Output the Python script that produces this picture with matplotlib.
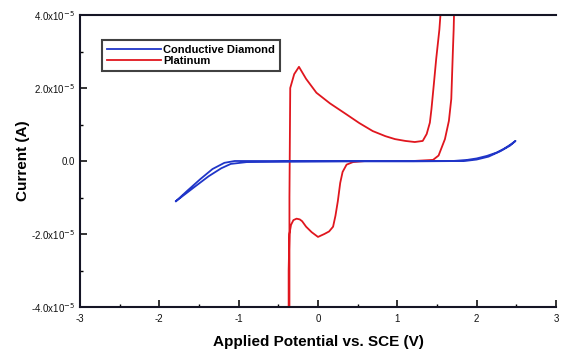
import matplotlib
matplotlib.use("Agg")
import matplotlib.pyplot as plt
from matplotlib.ticker import MultipleLocator, FixedLocator

plt.rcParams['font.family'] = ['Liberation Sans', 'DejaVu Sans']

# conductive diamond: forward then reverse sweep (V, A)
diamond_v = [-1.79, -1.65, -1.48, -1.33, -1.18, -1.05, -0.6, 0.0, 0.6, 1.2, 1.7, 1.88, 2.0, 2.13, 2.25, 2.34, 2.42, 2.49,
             2.42, 2.3, 2.15, 2.0, 1.85, 1.2, 0.5, -0.3, -0.9, -1.1, -1.22, -1.38, -1.55, -1.7, -1.79]
diamond_i = [-1.10e-5, -0.82e-5, -0.49e-5, -0.22e-5, -0.05e-5, 0.0, 0.0, 0.0, 0.0, 0.0, 0.0, 0.03e-5, 0.07e-5, 0.14e-5, 0.23e-5, 0.33e-5, 0.44e-5, 0.55e-5,
             0.42e-5, 0.27e-5, 0.12e-5, 0.04e-5, 0.0, -0.01e-5, -0.01e-5, -0.02e-5, -0.03e-5, -0.08e-5, -0.2e-5, -0.42e-5, -0.7e-5, -0.95e-5, -1.10e-5]

# platinum
platinum_v = [-0.36, -0.36, -0.35, -0.30, -0.24, -0.15, -0.02, 0.15, 0.35, 0.52, 0.69, 0.85, 0.97, 1.1, 1.22, 1.32, 1.37, 1.41, 1.43, 1.46, 1.49, 1.53, 1.56,
              1.72, 1.71, 1.70, 1.68, 1.65, 1.60, 1.52, 1.45, 1.2, 0.9, 0.6, 0.44, 0.36, 0.31, 0.28, 0.25, 0.22, 0.19, 0.14, 0.08, 0.0, -0.08, -0.15, -0.2, -0.23, -0.27, -0.31, -0.34, -0.36, -0.37, -0.37]
platinum_i = [-4.5e-5, -1.0e-5, 2.0e-5, 2.38e-5, 2.58e-5, 2.25e-5, 1.87e-5, 1.58e-5, 1.29e-5, 1.04e-5, 0.82e-5, 0.68e-5, 0.6e-5, 0.55e-5, 0.52e-5, 0.55e-5, 0.74e-5, 1.05e-5, 1.42e-5, 2.1e-5, 2.8e-5, 3.6e-5, 4.5e-5,
              4.5e-5, 3.6e-5, 3.0e-5, 1.7e-5, 1.1e-5, 0.6e-5, 0.15e-5, 0.03e-5, 0.0, 0.0, 0.0, -0.03e-5, -0.1e-5, -0.3e-5, -0.6e-5, -1.1e-5, -1.5e-5, -1.8e-5, -1.93e-5, -2.0e-5, -2.08e-5, -1.95e-5, -1.8e-5, -1.65e-5, -1.6e-5, -1.58e-5, -1.62e-5, -1.75e-5, -2.0e-5, -3.0e-5, -4.5e-5]

x_ticks = [-3, -2, -1, 0, 1, 2, 3]
y_ticks = [-4e-5, -2e-5, 0, 2e-5, 4e-5]
y_labels = ["-4.0x10$^{-5}$", "-2.0x10$^{-5}$", "0.0", "2.0x10$^{-5}$", "4.0x10$^{-5}$"]

fig = plt.figure(figsize=(5.61, 3.52), dpi=100)
ax = fig.add_axes([80 / 561, 1 - 307 / 352, 476 / 561, 292 / 352])

ax.plot(platinum_v, platinum_i, color="#e0161e", lw=1.3, label="Platinum", zorder=2)
ax.plot(diamond_v, diamond_i, color="#2035c8", lw=1.3, label="Conductive Diamond", zorder=3)

ax.set_xlim(-3, 3)
ax.set_ylim(-4e-5, 4e-5)
ax.xaxis.set_major_locator(FixedLocator(x_ticks))
ax.xaxis.set_minor_locator(MultipleLocator(0.5))
ax.set_yticks(y_ticks)
ax.set_yticklabels(y_labels)
ax.yaxis.set_minor_locator(MultipleLocator(1e-5))
ax.set_xticklabels([str(t) for t in x_ticks])

ax.tick_params(which="major", direction="in", length=5, width=1.2, labelsize=7, colors="#111111")
ax.tick_params(axis="x", which="major", pad=5)
ax.tick_params(which="minor", direction="in", length=2.5, width=1.0)
for s in ax.spines.values():
    s.set_linewidth(1.5)
    s.set_color("#151525")
ax.spines["right"].set_visible(False)

ax.set_xlabel("Applied Potential vs. SCE (V)", fontsize=11, fontweight="bold", labelpad=8)
ax.set_ylabel("Current (A)", fontsize=11, fontweight="bold", labelpad=1)

handles, labels = ax.get_legend_handles_labels()
leg = ax.legend(handles[::-1], labels[::-1], loc="upper left", bbox_to_anchor=(0.035, 0.935),
                fontsize=8, frameon=True, fancybox=False, edgecolor="#111111",
                handlelength=4.8, handletextpad=0.2, borderpad=0.45, labelspacing=0.15)
leg.get_frame().set_linewidth(1.5)
for t in leg.get_texts():
    t.set_fontweight("bold")

fig.savefig("out.png", dpi=100)
